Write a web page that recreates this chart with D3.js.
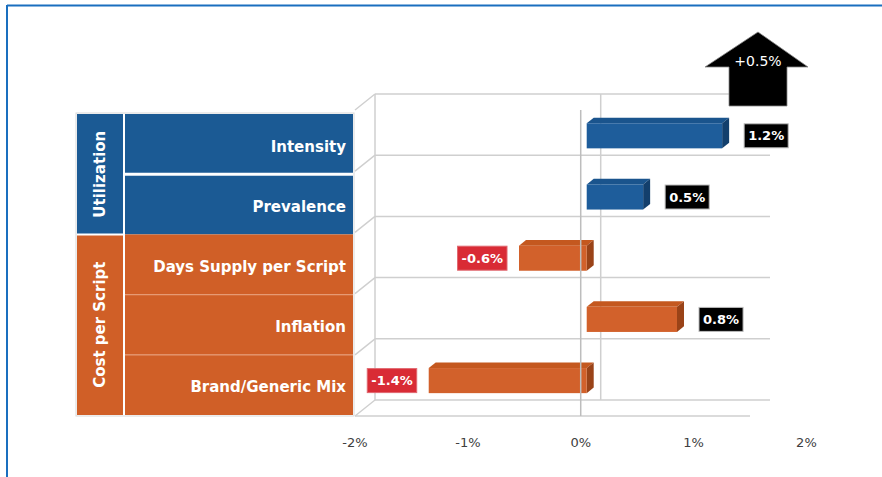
<!DOCTYPE html>
<html>
<head>
<meta charset="utf-8">
<script src="https://cdn.jsdelivr.net/npm/d3@7"></script>
<style>
  html, body { margin: 0; padding: 0; background: #fff; }
  svg { display: block; }
</style>
</head>
<body>
<svg id="chart" width="882" height="477"></svg>
<script>
// Drivers of the trend, top to bottom
const categories = ["Intensity", "Prevalence", "Days Supply per Script", "Inflation", "Brand/Generic Mix"];
const values = [1.2, 0.5, -0.6, 0.8, -1.4];            // % change
const groupOfCategory = ["Utilization", "Utilization", "Cost per Script", "Cost per Script", "Cost per Script"];
const groups = ["Utilization", "Cost per Script"];
const tickValues = [-2, -1, 0, 1, 2];
const tickLabels = ["-2%", "-1%", "0%", "1%", "2%"];
const totalLabel = "+0.5%";

const groupColor = { "Utilization": "#1B5A94", "Cost per Script": "#D05F27" };
const barFront = { "Utilization": "#1E5D9B", "Cost per Script": "#D2612B" };
const barTop = { "Utilization": "#1A548D", "Cost per Script": "#C4581F" };
const barSide = { "Utilization": "#133F6C", "Cost per Script": "#9A4318" };

const svg = d3.select("#chart");

// outer frame (top and left rules)
svg.append("line").attr("x1", 7).attr("x2", 882).attr("y1", 5.5).attr("y2", 5.5)
  .attr("stroke", "#1A6FBF").attr("stroke-width", 2);
svg.append("line").attr("x1", 7).attr("x2", 7).attr("y1", 5).attr("y2", 477)
  .attr("stroke", "#1A6FBF").attr("stroke-width", 2);

// ---- 3D plot geometry ----
const x = d3.scaleLinear().domain([-2, 1.5]).range([355, 750]);   // front plane
const y = d3.scaleBand().domain(categories).range([110, 416]);    // front plane
const DX = 20, DY = -16;                                           // full depth offset
const proj = (v, yy, z) => [x(v) + DX * z, yy + DY * z];

const grid = svg.append("g").attr("stroke", "#CFCFCF").attr("stroke-width", 1.5).attr("fill", "none");
const bounds = [y.range()[0]].concat(categories.map(c => y(c) + y.bandwidth()));
const [xmin, xmax] = x.domain();

// back wall horizontal gridlines + left wall diagonals
bounds.forEach(b => {
  const p0 = proj(xmin, b, 1), p1 = proj(xmax, b, 1), f0 = proj(xmin, b, 0);
  grid.append("line").attr("x1", p0[0]).attr("y1", p0[1]).attr("x2", p1[0]).attr("y2", p1[1]);
  grid.append("line").attr("x1", f0[0]).attr("y1", f0[1]).attr("x2", p0[0]).attr("y2", p0[1]);
});
// back wall left edge
{
  const a = proj(xmin, bounds[0], 1), b = proj(xmin, bounds[bounds.length - 1], 1);
  grid.append("line").attr("x1", a[0]).attr("y1", a[1]).attr("x2", b[0]).attr("y2", b[1]);
}
// floor front edge
{
  const yb = bounds[bounds.length - 1];
  const a = proj(xmin, yb, 0), b = proj(xmax, yb, 0);
  grid.append("line").attr("x1", a[0]).attr("y1", a[1]).attr("x2", b[0]).attr("y2", b[1]);
}
// zero line on the back wall
{
  const a = proj(0, bounds[0], 1), b = proj(0, bounds[bounds.length - 1], 1);
  grid.append("line").attr("x1", a[0]).attr("y1", a[1]).attr("x2", b[0]).attr("y2", b[1]);
}

// ---- bars ----
const Z0 = 0.3, Z1 = 0.65;
const barH = y.bandwidth() * 0.41;
const bars = svg.append("g");
categories.forEach((c, i) => {
  const v = values[i], g = groupOfCategory[i];
  const lo = Math.min(0, v), hi = Math.max(0, v);
  const yc = y(c) + y.bandwidth() / 2;
  const t = yc - barH / 2, bt = yc + barH / 2;
  const P = (vv, yy, z) => proj(vv, yy, z).join(",");
  // top face
  bars.append("polygon")
    .attr("points", [P(lo, t, Z0), P(hi, t, Z0), P(hi, t, Z1), P(lo, t, Z1)].join(" "))
    .attr("fill", barTop[g]);
  // right face
  bars.append("polygon")
    .attr("points", [P(hi, t, Z0), P(hi, t, Z1), P(hi, bt, Z1), P(hi, bt, Z0)].join(" "))
    .attr("fill", barSide[g]);
  // front face
  const f0 = proj(lo, t, Z0), f1 = proj(hi, bt, Z0);
  bars.append("rect").attr("x", f0[0]).attr("y", f0[1])
    .attr("width", f1[0] - f0[0]).attr("height", f1[1] - f0[1])
    .attr("fill", barFront[g]);
});

// zero line on the front plane
{
  const a = proj(0, bounds[0], 0), b = proj(0, bounds[bounds.length - 1], 0);
  svg.append("line").attr("x1", a[0]).attr("y1", a[1]).attr("x2", b[0]).attr("y2", b[1])
    .attr("stroke", "#BDBDBD").attr("stroke-width", 1.5);
}

// ---- data labels ----
const lab = svg.append("g").attr("font-family", "DejaVu Sans").attr("font-weight", "bold")
  .attr("font-size", 13);
categories.forEach((c, i) => {
  const v = values[i];
  const yc = y(c) + y.bandwidth() / 2 + DY * Z0;
  const txt = v.toFixed(1) + "%";
  const t = lab.append("text").attr("fill", "#fff").attr("dy", "0.36em").text(txt);
  const w = t.node().getComputedTextLength() + 8, h = 24;
  let bx;
  if (v >= 0) bx = x(v) + DX * Z1 + 15;
  else bx = x(v) + DX * Z0 - 12 - w;
  lab.insert("rect", "text").attr("x", bx).attr("y", yc - h / 2).attr("width", w).attr("height", h)
    .attr("fill", v >= 0 ? "#000" : "#D92B35").attr("stroke", v >= 0 ? "#BBBBBB" : "#E06870").attr("stroke-width", 1);
  t.attr("x", bx + w / 2).attr("y", yc).attr("text-anchor", "middle");
});

// ---- x tick labels ----
svg.append("g").selectAll("text").data(tickValues).join("text")
  .attr("x", d => x(d)).attr("y", 442).attr("dy", "0.36em")
  .attr("text-anchor", "middle").attr("font-family", "DejaVu Sans").attr("font-size", 13)
  .attr("fill", "#404040")
  .text((d, i) => tickLabels[i]);

// ---- category panel ----
const panelY = d3.scaleBand().domain(categories).range([114, 415]);
const colHeader = [77, 123], colLabel = [125, 353];
const panel = svg.append("g");
panel.append("rect").attr("x", 76).attr("y", 113).attr("width", 278).attr("height", 303)
  .attr("fill", "none").attr("stroke", "#D8D8D8");
// label cells
categories.forEach((c, i) => {
  const g = groupOfCategory[i];
  panel.append("rect").attr("x", colLabel[0]).attr("y", panelY(c))
    .attr("width", colLabel[1] - colLabel[0]).attr("height", panelY.bandwidth())
    .attr("fill", groupColor[g]);
});
// separators between cells
categories.slice(1).forEach((c, i) => {
  const g = groupOfCategory[i + 1], gPrev = groupOfCategory[i];
  if (g !== gPrev) return;
  panel.append("line").attr("x1", colLabel[0]).attr("x2", colLabel[1])
    .attr("y1", panelY(c)).attr("y2", panelY(c))
    .attr("stroke", g === "Utilization" ? "#FFFFFF" : "#E69A74")
    .attr("stroke-width", g === "Utilization" ? 3 : 1.2);
});
panel.append("g").selectAll("text").data(categories).join("text")
  .attr("x", 346).attr("y", d => panelY(d) + panelY.bandwidth() / 2 + 2)
  .attr("dy", "0.36em").attr("text-anchor", "end")
  .attr("font-family", "DejaVu Sans").attr("font-weight", "bold").attr("font-size", 15)
  .attr("fill", "#fff").text(d => d);

// group header cells
groups.forEach((g, gi) => {
  const members = categories.filter((c, i) => groupOfCategory[i] === g);
  const top = panelY(members[0]), bot = panelY(members[members.length - 1]) + panelY.bandwidth();
  panel.append("rect").attr("x", colHeader[0]).attr("y", top)
    .attr("width", colHeader[1] - colHeader[0]).attr("height", bot - top)
    .attr("fill", groupColor[g]);
  if (gi > 0) {
    panel.append("line").attr("x1", colHeader[0]).attr("x2", colHeader[1] + 2)
      .attr("y1", top).attr("y2", top).attr("stroke", "#fff").attr("stroke-width", 2);
  }
  const cx = (colHeader[0] + colHeader[1]) / 2, cy = (top + bot) / 2;
  panel.append("text").attr("transform", `translate(${cx},${cy}) rotate(-90)`)
    .attr("text-anchor", "middle").attr("dy", "0.36em")
    .attr("font-family", "DejaVu Sans").attr("font-weight", "bold").attr("font-size", 15)
    .attr("fill", "#fff").text(g);
});
// white rule between header column and label column
panel.append("line").attr("x1", 124).attr("x2", 124).attr("y1", 114).attr("y2", 415)
  .attr("stroke", "#fff").attr("stroke-width", 2);

// ---- net total arrow ----
const arrow = svg.append("g");
const ax = 758;
arrow.append("path")
  .attr("d", `M${ax},32 L808,67 L787,67 L787,106 L729,106 L729,67 L705,67 Z`)
  .attr("fill", "#000").attr("stroke", "#888").attr("stroke-width", 0.8);
arrow.append("text").attr("x", ax).attr("y", 61).attr("dy", "0.36em")
  .attr("text-anchor", "middle").attr("font-family", "DejaVu Sans").attr("font-size", 14)
  .attr("fill", "#fff").text(totalLabel);
</script>
</body>
</html>
